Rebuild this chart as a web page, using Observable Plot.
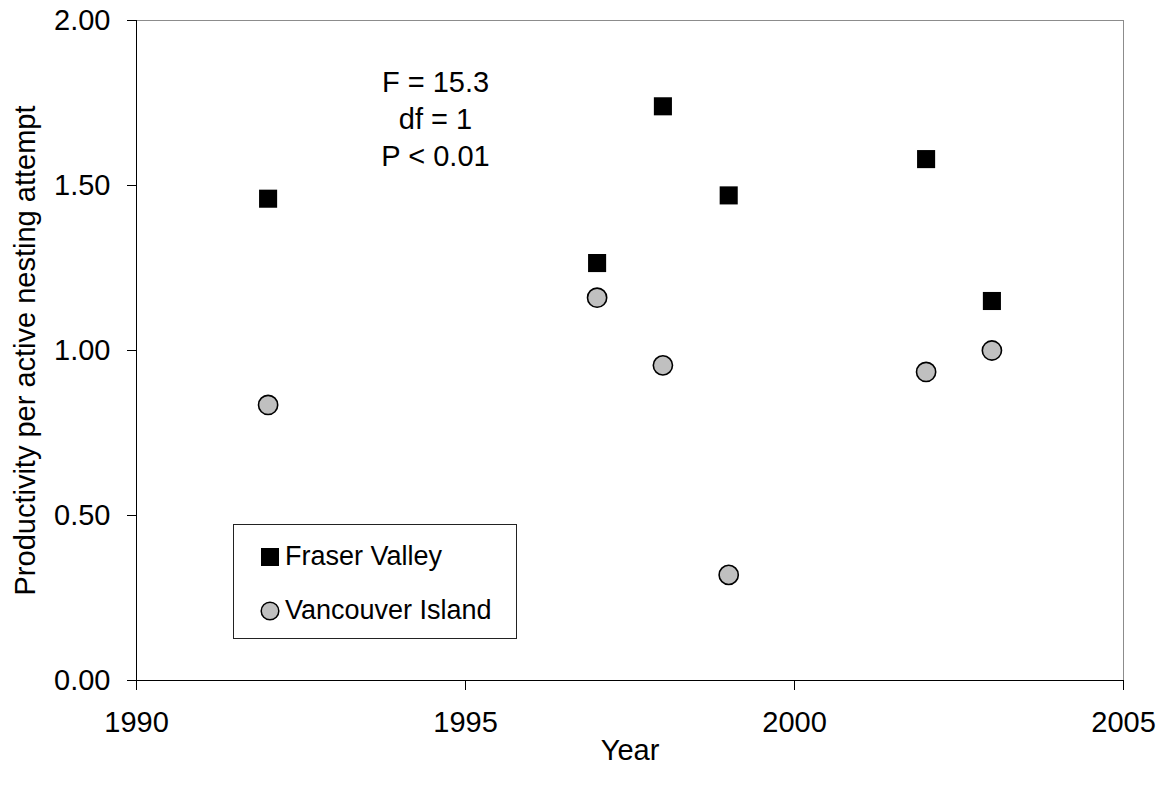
<!DOCTYPE html>
<html>
<head>
<meta charset="utf-8">
<script src="https://cdn.jsdelivr.net/npm/d3@7"></script>
<script src="https://cdn.jsdelivr.net/npm/@observablehq/plot@0.6"></script>
<style>
  body { margin: 0; background: #fff; font-family: "Liberation Sans", Arial, sans-serif; }
  #wrap { position: relative; width: 1166px; height: 788px; }
  .legend {
    position: absolute; left: 233px; top: 524px; width: 282px; height: 113px;
    border: 1px solid #222; background: #fff; box-sizing: content-box;
  }
  .legend .row { position: absolute; left: 26px; display: flex; align-items: center; font-size: 27px; color: #000; white-space: nowrap; }
  .legend .row svg { margin-right: 5px; }
</style>
</head>
<body>
<div id="wrap"></div>
<script>
// Productivity per active nesting attempt, by year and region
const years = [1992, 1997, 1998, 1999, 2002, 2003];
const fraserValley = [1.46, 1.265, 1.74, 1.47, 1.58, 1.15];
const vancouverIsland = [0.835, 1.16, 0.955, 0.32, 0.935, 1.0];
const xTicks = [1990, 1995, 2000, 2005];
const yTicks = [0, 0.5, 1, 1.5, 2];
const statsLines = ["F = 15.3", "df = 1", "P < 0.01"];
const seriesNames = ["Fraser Valley", "Vancouver Island"];

const fvRows = years.map((year, i) => ({year, value: fraserValley[i]}));
const viRows = years.map((year, i) => ({year, value: vancouverIsland[i]}));

const chart = Plot.plot({
  width: 1166,
  height: 788,
  marginLeft: 136,
  marginRight: 43,
  marginTop: 20,
  marginBottom: 108,
  style: {fontFamily: "Liberation Sans, Arial, sans-serif", fontSize: "29px", color: "#000", background: "#fff"},
  x: {domain: [1990, 2005]},
  y: {domain: [0, 2]},
  marks: [
    // grey box around the plotting area, with black x and y axis lines
    Plot.frame({stroke: "#8c8c8c"}),
    Plot.ruleX([1990], {stroke: "#000"}),
    Plot.ruleY([0], {stroke: "#000"}),
    Plot.axisX({
      ticks: xTicks, tickFormat: d => String(d), tickSize: 10, tickPadding: 21,
      label: "Year", labelAnchor: "center", labelArrow: "none", labelOffset: 79
    }),
    Plot.axisY({
      ticks: yTicks, tickFormat: d => d.toFixed(2), tickSize: 9, tickPadding: 17,
      label: "Productivity per active nesting attempt", labelAnchor: "center", labelArrow: "none", labelOffset: 122
    }),
    Plot.dot(fvRows, {x: "year", y: "value", symbol: "square", r: 10.2, fill: "#000"}),
    Plot.dot(viRows, {x: "year", y: "value", symbol: "circle", r: 9.6, fill: "#c0c0c0", stroke: "#000", strokeWidth: 1.6}),
    // test statistics
    Plot.text([statsLines.join("\n")], {
      frameAnchor: "top-left", dx: 299, dy: 97, textAnchor: "middle", lineAnchor: "middle",
      lineHeight: 1.27, fontSize: 29, fill: "#000"
    })
  ]
});

const wrap = document.getElementById("wrap");
wrap.appendChild(chart);

// Legend box inside the plotting area
const legend = document.createElement("div");
legend.className = "legend";
legend.innerHTML = `
  <div class="row" style="top:16px">
    <svg width="20" height="20"><rect x="1" y="1" width="18" height="18" fill="#000"/></svg>${seriesNames[0]}
  </div>
  <div class="row" style="top:70px">
    <svg width="20" height="20"><circle cx="10" cy="10" r="8.8" fill="#c0c0c0" stroke="#000" stroke-width="1.5"/></svg>${seriesNames[1]}
  </div>`;
wrap.appendChild(legend);
</script>
</body>
</html>
